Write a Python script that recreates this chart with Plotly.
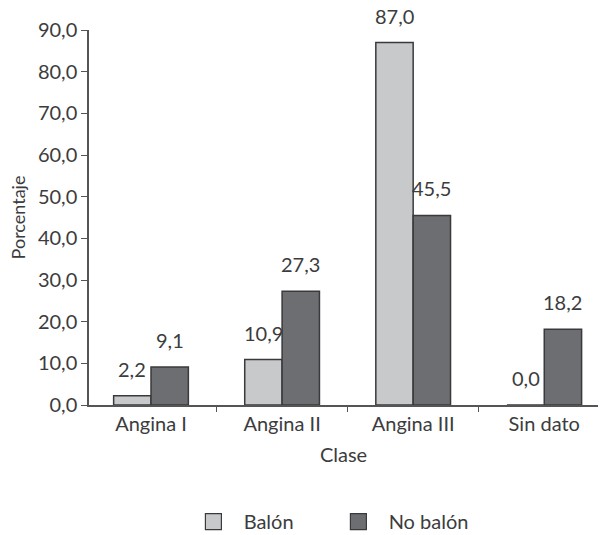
import plotly.graph_objects as go

# Data: percentage by angina class
categories = ["Angina I", "Angina II", "Angina III", "Sin dato"]
balon = [2.2, 10.9, 87.0, 0.0]
no_balon = [9.1, 27.3, 45.5, 18.2]
series_names = ["Balón", "No balón"]
y_ticks = [0, 10, 20, 30, 40, 50, 60, 70, 80, 90]

LIGHT = "#c8c9cb"
DARK = "#6d6e71"
EDGE = "#3a3a3c"
TEXT = "#3c3c3e"
FONT = "Lato, 'Open Sans', sans-serif"
FS = 20

BARGAP = 0.43
half = (1 - BARGAP) / 4  # offset of each bar centre from its category centre

fig = go.Figure()
for k, (name, vals, color) in enumerate([(series_names[0], balon, LIGHT),
                                          (series_names[1], no_balon, DARK)]):
    fig.add_trace(go.Bar(
        x=categories, y=vals, name=name,
        marker=dict(color=color, line=dict(color=EDGE, width=1.5)),
        showlegend=False, hoverinfo="x+y",
    ))
    # legend entry with a larger square swatch
    fig.add_trace(go.Scatter(
        x=[None], y=[None], mode="markers", name="\u00a0\u00a0" + name,
        marker=dict(symbol="square", size=20, color=color, line=dict(color=EDGE, width=1.2)),
    ))
    # value labels above each bar
    sign = -1 if k == 0 else 1
    for i, v in enumerate(vals):
        fig.add_annotation(
            x=i + sign * half, y=v, xref="x", yref="y",
            text=f"{v:.1f}".replace(".", ","), showarrow=False,
            yanchor="bottom", yshift=13,
            font=dict(size=FS, color=TEXT, family=FONT),
        )

fig.update_layout(
    width=600, height=535,
    margin=dict(l=89, r=2, t=30, b=130, autoexpand=False),
    paper_bgcolor="white", plot_bgcolor="white",
    separators=",.",
    barmode="group", bargap=BARGAP, bargroupgap=0.0,
    font=dict(family=FONT, size=FS, color=TEXT),
    legend=dict(
        orientation="h", x=0.49, xanchor="center",
        yref="container", y=0.025, yanchor="middle",
        font=dict(size=FS, color=TEXT, family=FONT),
        entrywidth=100, itemclick=False,
    ),
)
fig.update_xaxes(
    range=[-0.473, 3.41], automargin=False,
    showline=True, linecolor="#555", linewidth=1.5,
    ticks="outside", tickson="boundaries", ticklen=5, tickcolor="#555",
    tickfont=dict(size=FS, color=TEXT, family=FONT),
    ticklabelstandoff=0,
    title=dict(text="Clase", font=dict(size=FS, color=TEXT, family=FONT), standoff=14),
    showgrid=False, zeroline=False,
)
fig.update_yaxes(
    range=[0, 90], tickvals=y_ticks, tickformat=".1f", automargin=False,
    showline=True, linecolor="#555", linewidth=1.5,
    ticks="outside", ticklen=6, tickcolor="#555",
    tickfont=dict(size=FS, color=TEXT, family=FONT),
    title=dict(text="Porcentaje", font=dict(size=18, color=TEXT, family=FONT), standoff=8),
    showgrid=False, zeroline=False,
)

fig.write_html("out.html")
